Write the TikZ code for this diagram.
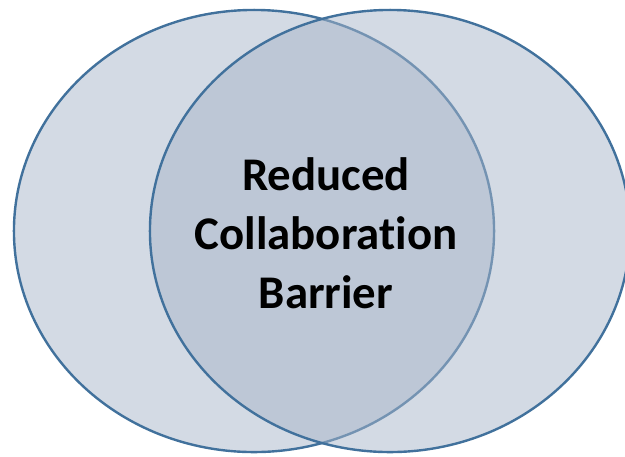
\documentclass[tikz,border=0pt]{standalone}
\usepackage{fontspec}
\setmainfont[Ligatures=NoCommon]{Carlito}
\usetikzlibrary{shapes.geometric}

\definecolor{setedge}{RGB}{65,113,156}
\definecolor{setfill}{RGB}{167,181,201}

\begin{document}
\begin{tikzpicture}[x=0.025cm,y=-0.025cm]

      \useasboundingbox (0,0) rectangle (625,456);
      \clip (0,0) rectangle (625,456);

      \begin{scope}[every node/.style={ellipse, draw=setedge, line width=0.06cm,
          fill=setfill, fill opacity=0.5, draw opacity=1,
          minimum width=12cm, minimum height=11.05cm, inner sep=0pt}]
        \node (left)  at (254,231) {};
        \node (right) at (390,231) {};
      \end{scope}

      \node[align=center, font=\bfseries\fontsize{33.3}{42}\selectfont] (barrier)
        at (326,233) {Reduced\\Collaboration\\Barrier};

    \end{tikzpicture}
\end{document}
